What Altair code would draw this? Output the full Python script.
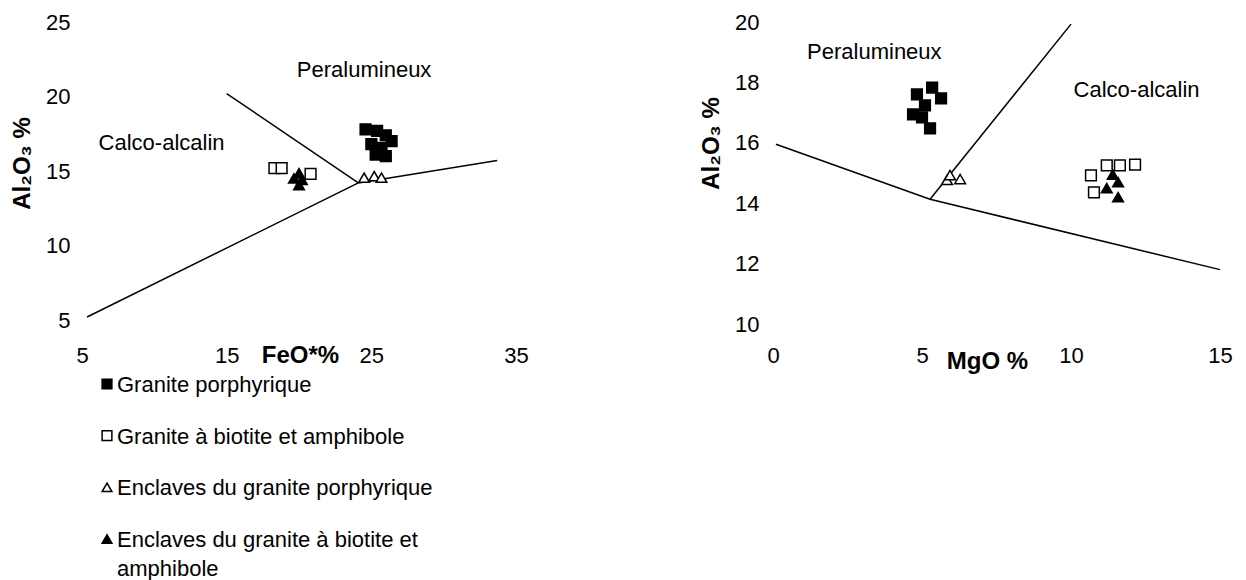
import altair as alt
import pandas as pd

FONT = "Liberation Sans"
FS = 22      # tick labels, notes, legend
TFS = 24     # axis titles (bold)

groups = ["Granite porphyrique", "Granite à biotite et amphibole",
          "Enclaves du granite porphyrique", "Enclaves du granite à biotite et amphibole"]
legend_labels = ["Granite porphyrique", "Granite à biotite et amphibole",
                 "Enclaves du granite porphyrique", "Enclaves du granite à biotite et\namphibole"]
shapes = ["square", "square", "triangle-up", "triangle-up"]
fills = ["black", "white", "white", "black"]

# ---- left diagram: FeO*% vs Al2O3 %
l_gp_x = [24.6, 25.4, 26.0, 26.4, 25.0, 25.7, 25.3, 26.0]
l_gp_y = [17.8, 17.7, 17.4, 17.0, 16.8, 16.55, 16.1, 16.0]
l_gba_x = [18.3, 18.8, 20.8]
l_gba_y = [15.2, 15.2, 14.8]
l_egp_x = [24.5, 25.2, 25.7]
l_egp_y = [14.55, 14.65, 14.55]
l_egba_x = [20.0, 19.65, 20.2, 20.0]
l_egba_y = [14.85, 14.5, 14.4, 14.05]
l_seg_x1 = [5.35, 15.0, 24.1]
l_seg_y1 = [5.2, 20.2, 14.2]
l_seg_x2 = [24.1, 24.1, 33.7]
l_seg_y2 = [14.2, 14.2, 15.7]
l_ann = ["Peralumineux", "Calco-alcalin"]
l_ann_x = [24.5, 10.5]
l_ann_y = [21.75, 16.9]
l_xticks = [5, 15, 25, 35]
l_yticks = [5, 10, 15, 20, 25]

# ---- right diagram: MgO % vs Al2O3 %
r_gp_x = [4.83, 5.34, 5.64, 5.1, 4.7, 5.0, 5.27]
r_gp_y = [17.6, 17.83, 17.47, 17.24, 16.94, 16.84, 16.48]
r_gba_x = [10.67, 11.2, 11.64, 12.15, 10.77]
r_gba_y = [14.92, 15.25, 15.25, 15.28, 14.36]
r_egp_x = [5.84, 5.94, 6.28]
r_egp_y = [14.77, 14.93, 14.8]
r_egba_x = [11.4, 11.58, 11.2, 11.58]
r_egba_y = [14.95, 14.7, 14.5, 14.2]
r_seg_x1 = [0.1, 5.27, 5.27]
r_seg_y1 = [15.95, 14.13, 14.13]
r_seg_x2 = [5.27, 15.0, 10.0]
r_seg_y2 = [14.13, 11.8, 19.93]
r_ann = ["Peralumineux", "Calco-alcalin"]
r_ann_x = [3.4, 12.2]
r_ann_y = [19.0, 17.74]
r_xticks = [0, 5, 10, 15]
r_yticks = [10, 12, 14, 16, 18, 20]


def pts_frame(series):
    rows = []
    for g, (xs, ys) in zip(groups, series):
        for x, y in zip(xs, ys):
            rows.append({"group": g, "x": x, "y": y})
    return pd.DataFrame(rows)


shape_scale = alt.Scale(domain=groups, range=shapes)
fill_scale = alt.Scale(domain=groups, range=fills)
NOVIEW = alt.ViewBackground(stroke="transparent", strokeWidth=0)


def panel(pts, segs, ann, xdom, ydom, xticks, yticks, w, h, xtitle, xlab_pad,
          xtitle_x, xtitle_y, ytitle_x, ytitle_y, ylab_pad):
    xs = alt.Scale(domain=xdom, nice=False, zero=False)
    ys = alt.Scale(domain=ydom, nice=False, zero=False)
    xaxis = alt.Axis(values=xticks, title=xtitle, domain=False, ticks=False, tickSize=0,
                     grid=False, labelFont=FONT, labelFontSize=FS, labelColor="black",
                     labelPadding=xlab_pad, labelBaseline="middle", labelFlush=False,
                     titleFont=FONT, titleFontSize=TFS, titleFontWeight="bold",
                     titleColor="black", titleX=xtitle_x, titleY=xtitle_y,
                     titleBaseline="middle", titleAlign="center")
    yaxis = alt.Axis(values=yticks, title="Al₂O₃ %", domain=False, ticks=False, tickSize=0,
                     grid=False, labelFont=FONT, labelFontSize=FS, labelColor="black",
                     labelPadding=ylab_pad, labelFlush=False,
                     titleFont=FONT, titleFontSize=TFS, titleFontWeight="bold",
                     titleColor="black", titleX=ytitle_x, titleY=ytitle_y,
                     titleAngle=270, titleBaseline="middle", titleAlign="center")
    lines = alt.Chart(segs).mark_rule(color="black", strokeWidth=1.5).encode(
        x=alt.X("x1:Q", scale=xs, axis=xaxis),
        y=alt.Y("y1:Q", scale=ys, axis=yaxis),
        x2="x2:Q", y2="y2:Q")
    points = alt.Chart(pts).mark_point(filled=True, size=115, opacity=1,
                                       stroke="black", strokeWidth=1.5).encode(
        x=alt.X("x:Q", scale=xs),
        y=alt.Y("y:Q", scale=ys),
        shape=alt.Shape("group:N", scale=shape_scale, legend=None),
        fill=alt.Fill("group:N", scale=fill_scale, legend=None))
    texts = alt.Chart(ann).mark_text(font=FONT, fontSize=FS, color="black").encode(
        x=alt.X("x:Q", scale=xs), y=alt.Y("y:Q", scale=ys), text="t:N")
    return alt.layer(lines, points, texts).properties(width=w, height=h, view=NOVIEW)


l_pts = pts_frame([(l_gp_x, l_gp_y), (l_gba_x, l_gba_y), (l_egp_x, l_egp_y), (l_egba_x, l_egba_y)])
r_pts = pts_frame([(r_gp_x, r_gp_y), (r_gba_x, r_gba_y), (r_egp_x, r_egp_y), (r_egba_x, r_egba_y)])
l_segs = pd.DataFrame({"x1": l_seg_x1, "y1": l_seg_y1, "x2": l_seg_x2, "y2": l_seg_y2})
r_segs = pd.DataFrame({"x1": r_seg_x1, "y1": r_seg_y1, "x2": r_seg_x2, "y2": r_seg_y2})
l_anns = pd.DataFrame({"t": l_ann, "x": l_ann_x, "y": l_ann_y})
r_anns = pd.DataFrame({"t": r_ann, "x": r_ann_x, "y": r_ann_y})

left_main = panel(l_pts, l_segs, l_anns, [5, 35], [5, 25], l_xticks, l_yticks, 434, 298,
                  "FeO*%", 35, 218, 35, -60, 141, 12)
right = panel(r_pts, r_segs, r_anns, [0, 15], [10, 20], r_xticks, r_yticks, 447, 302,
              "MgO %", 31, 214, 37, -62, 121, 14)

leg_df = pd.DataFrame({"group": groups, "label": legend_labels})
leg_y = alt.Y("group:N", sort=groups, axis=None,
              scale=alt.Scale(domain=groups, range=[362, 517], padding=0))
leg_pts = alt.Chart(leg_df).mark_point(filled=True, size=95, opacity=1,
                                       stroke="black", strokeWidth=1.5).encode(
    x=alt.value(25), y=leg_y,
    shape=alt.Shape("group:N", scale=shape_scale, legend=None),
    fill=alt.Fill("group:N", scale=fill_scale, legend=None))
leg_txt = alt.Chart(leg_df).mark_text(font=FONT, fontSize=FS, color="black", align="left",
                                      baseline="alphabetic", dy=8, lineBreak="\n",
                                      lineHeight=29).encode(
    x=alt.value(35), y=leg_y, text="label:N")

left = alt.layer(left_main, alt.layer(leg_pts, leg_txt).properties(view=NOVIEW)) \
    .resolve_scale(y="independent").properties(view=NOVIEW)

chart = alt.hconcat(left, right, spacing=170).properties(
    padding={"left": 2, "top": 3, "right": 5, "bottom": 5}
).configure_view(stroke="transparent", strokeWidth=0).configure(background="white")

chart.save("out.html", embed_options={"renderer": "svg", "actions": False})
